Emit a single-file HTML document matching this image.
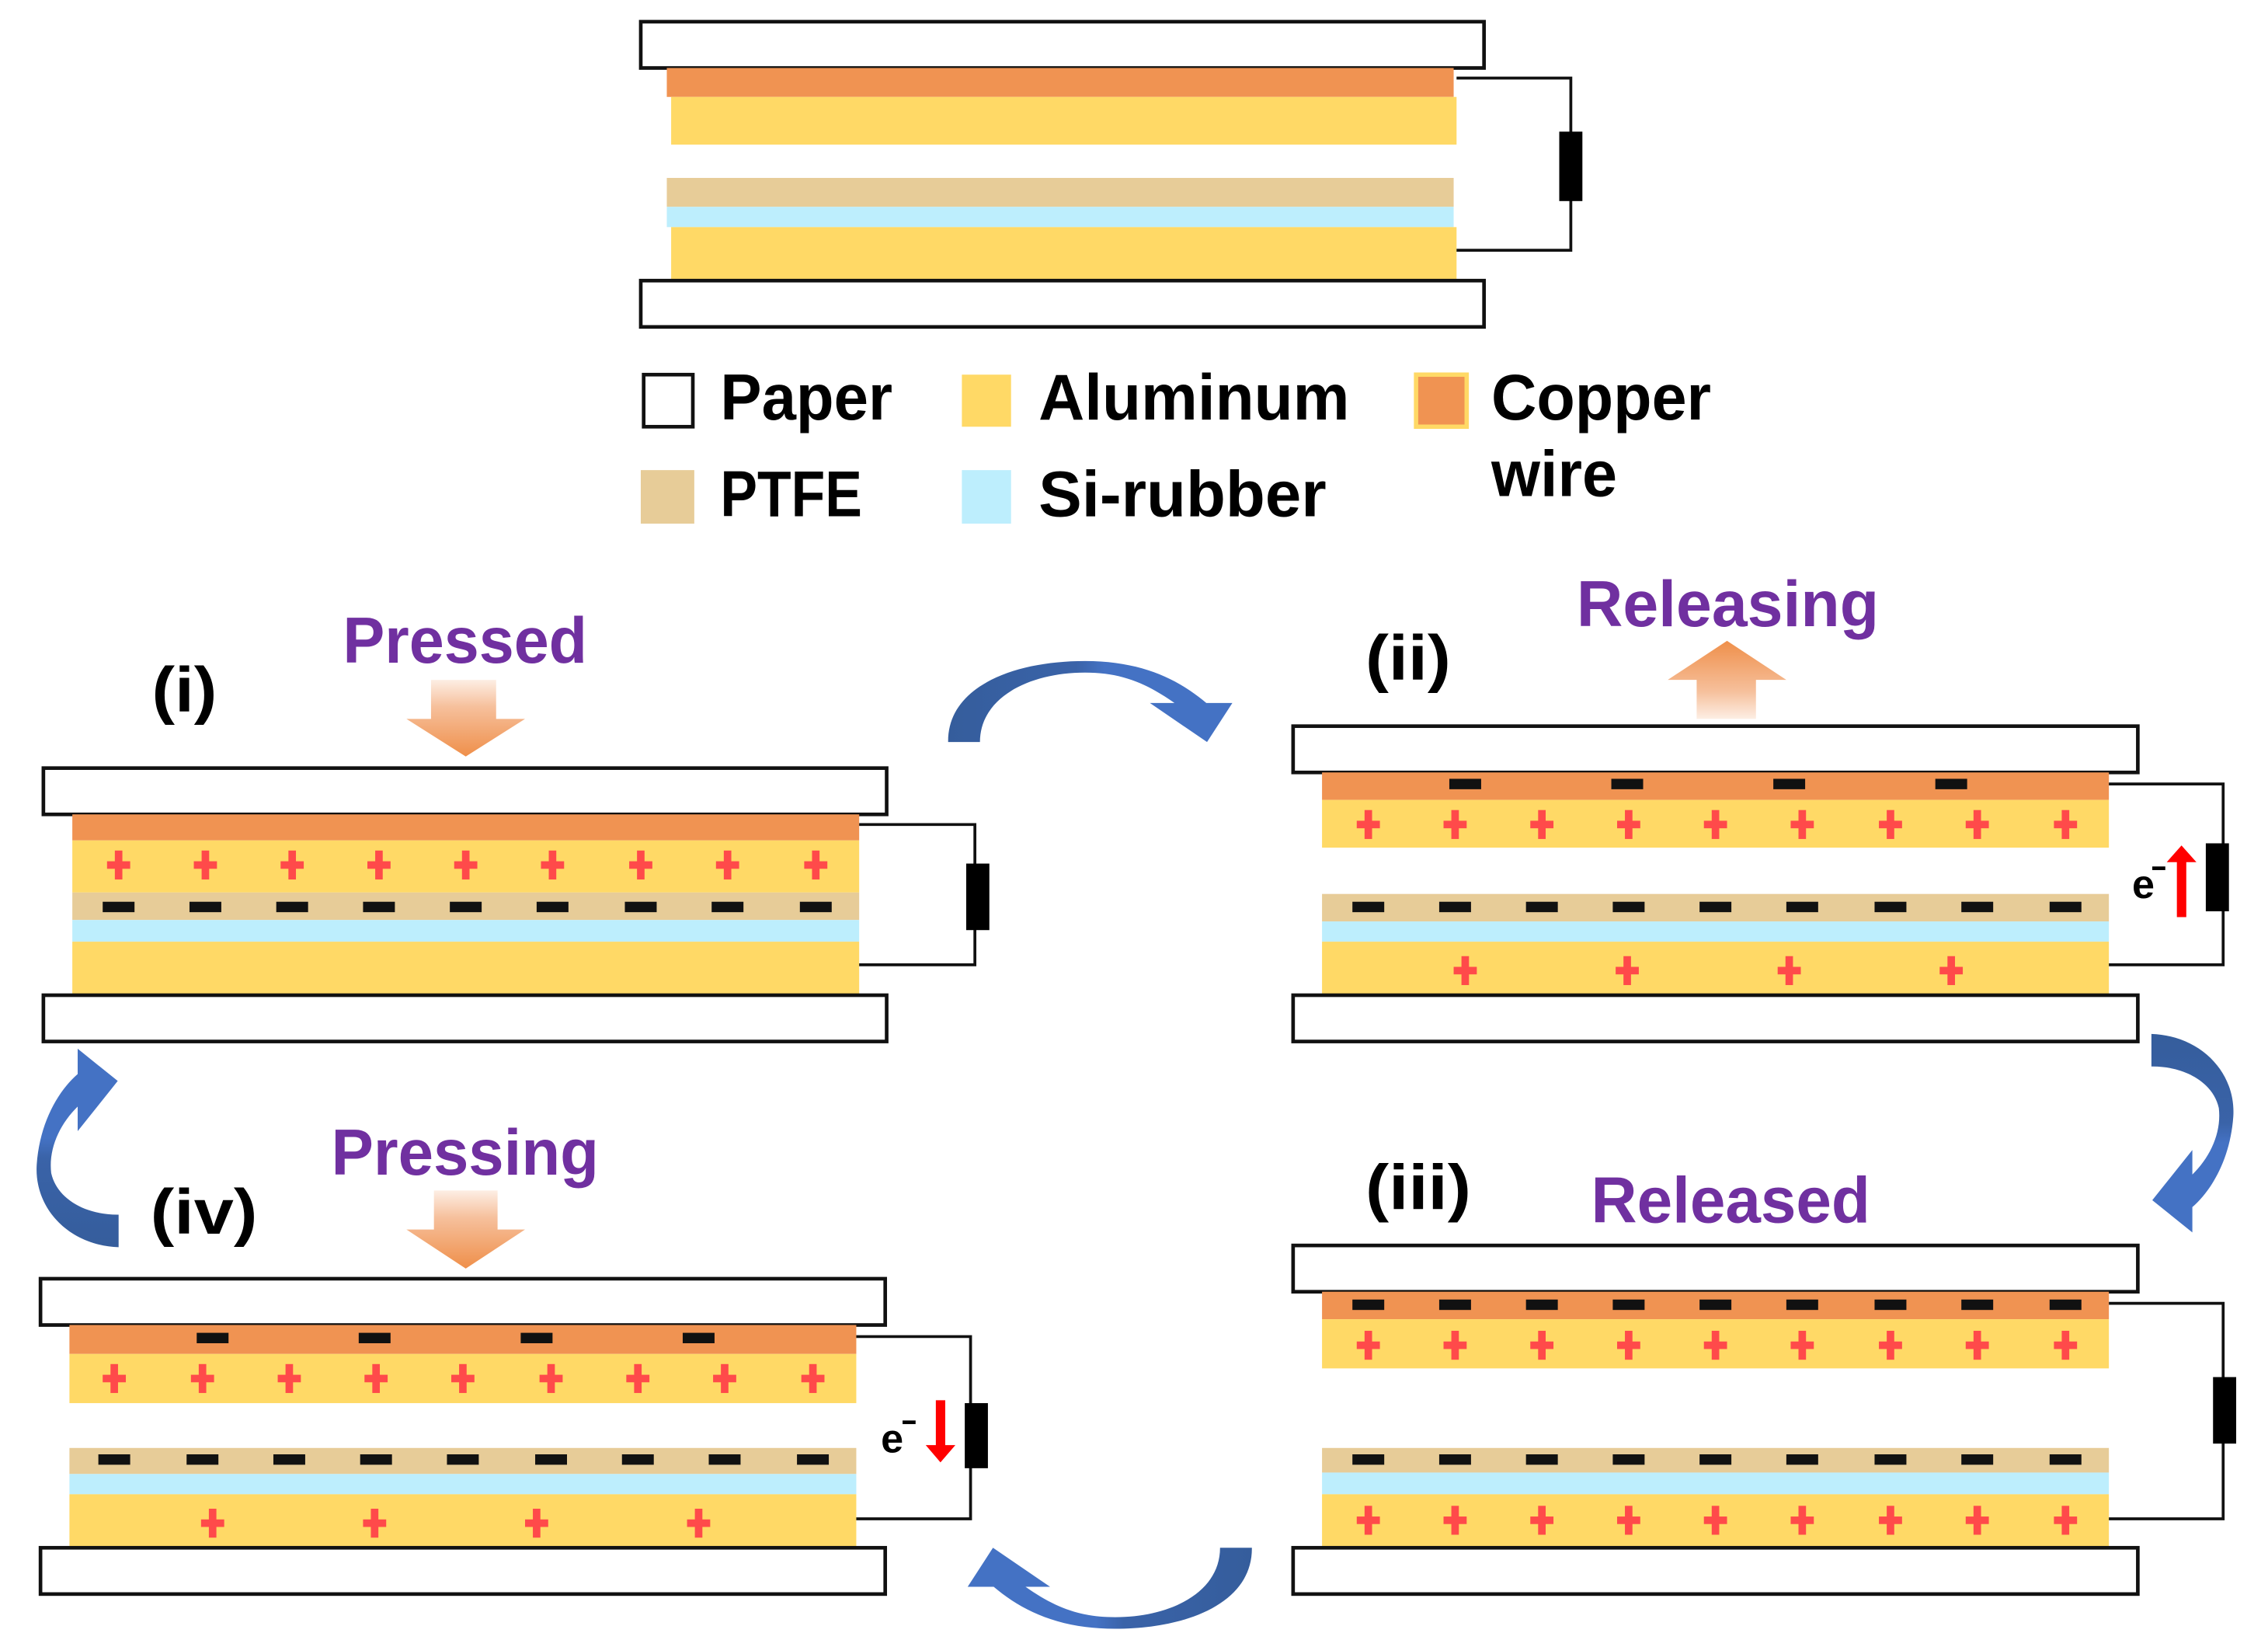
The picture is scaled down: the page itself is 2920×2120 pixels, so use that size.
<!DOCTYPE html>
<html><head><meta charset="utf-8"><style>
html,body{margin:0;padding:0;background:#fff;}
svg{display:block;}
text{font-family:"Liberation Sans",sans-serif;font-weight:bold;}
</style></head><body>
<svg width="2920" height="2120" viewBox="0 0 1568 1138.6" preserveAspectRatio="none" xmlns="http://www.w3.org/2000/svg">
<defs>
<g id="p"><rect x="-8" y="-2.6" width="16" height="5.2" fill="#ff4a4a"/><rect x="-2.6" y="-10" width="5.2" height="20" fill="#ff4a4a"/></g>
<g id="m"><rect x="-11" y="-3.6" width="22" height="7.2" fill="#111"/></g>
<linearGradient id="gd" x1="0" y1="0" x2="0" y2="1"><stop offset="0" stop-color="#fdeee4"/><stop offset="0.35" stop-color="#f6c09c"/><stop offset="1" stop-color="#ef8f4a"/></linearGradient>
<linearGradient id="gu" x1="0" y1="1" x2="0" y2="0"><stop offset="0" stop-color="#fdeee4"/><stop offset="0.35" stop-color="#f6c09c"/><stop offset="1" stop-color="#ef8f4a"/></linearGradient>
<linearGradient id="gb" x1="0" y1="0" x2="1" y2="0"><stop offset="0" stop-color="#355d9c"/><stop offset="0.45" stop-color="#3a63a8"/><stop offset="0.55" stop-color="#4472c4"/><stop offset="1" stop-color="#4472c4"/></linearGradient>
<linearGradient id="gb2" x1="0" y1="0" x2="0" y2="1"><stop offset="0" stop-color="#355d9c"/><stop offset="0.45" stop-color="#3a63a8"/><stop offset="0.55" stop-color="#4472c4"/><stop offset="1" stop-color="#4472c4"/></linearGradient>
<path id="arcT" d="M655.5,513 C655,475 700,457 750,457 C790,457 815,470 834,486 L852,486 L834.5,513 L795,486 L812,486 C792,472 775,465 750,465 C712,465 677.5,482 677.5,513 Z"/>
<path id="arcR" d="M1487.4,714.8 C1522,716 1546,742 1544,772 C1542,800 1530,822 1515.7,834.5 L1515.7,852 L1488,829.7 L1515.7,795 L1515.7,812 C1528,800 1536,783 1534,766 C1530,748 1510,737 1487.4,737.3 Z"/>
</defs>

<!-- TOP DEVICE -->
<rect x="443" y="15" width="583" height="32" fill="#fff" stroke="#111" stroke-width="2.5"/>
<rect x="461" y="47" width="544" height="20" fill="#f09352"/>
<rect x="464" y="67" width="543" height="33" fill="#ffd966"/>
<rect x="461" y="123" width="544" height="20" fill="#e7cc98"/>
<rect x="461" y="143" width="544" height="14" fill="#bdeefd"/>
<rect x="464" y="157" width="543" height="37" fill="#ffd966"/>
<rect x="443" y="194" width="583" height="32" fill="#fff" stroke="#111" stroke-width="2.5"/>
<polyline points="1007,54 1086,54 1086,173 1007,173" fill="none" stroke="#111" stroke-width="2"/>
<rect x="1078" y="91" width="16" height="48" fill="#000"/>

<!-- LEGEND -->
<rect x="445" y="259" width="34" height="36" fill="#fff" stroke="#111" stroke-width="2.5"/>
<text x="498" y="290" font-size="45" textLength="119" lengthAdjust="spacingAndGlyphs">Paper</text>
<rect x="665" y="259" width="34" height="36" fill="#ffd966"/>
<text x="718" y="290" font-size="45" textLength="215" lengthAdjust="spacingAndGlyphs">Aluminum</text>
<rect x="979" y="259" width="35" height="36" fill="#f09352" stroke="#ffd966" stroke-width="3"/>
<text x="1031" y="290" font-size="45" textLength="152" lengthAdjust="spacingAndGlyphs">Copper</text>
<text x="1031" y="343" font-size="45" textLength="87" lengthAdjust="spacingAndGlyphs">wire</text>
<rect x="443" y="325" width="37" height="37" fill="#e7cc98"/>
<text x="498" y="357" font-size="45" textLength="98" lengthAdjust="spacingAndGlyphs">PTFE</text>
<rect x="665" y="325" width="34" height="37" fill="#bdeefd"/>
<text x="718" y="357" font-size="45" textLength="199" lengthAdjust="spacingAndGlyphs">Si-rubber</text>

<!-- PANEL (i) -->
<text x="105" y="492" font-size="44" textLength="45" lengthAdjust="spacingAndGlyphs">(i)</text>
<text x="237" y="458" font-size="45" fill="#7030a0" textLength="169" lengthAdjust="spacingAndGlyphs">Pressed</text>
<polygon points="298,470 343,470 343,497 363,497 322,523 281,497 298,497" fill="url(#gd)"/>
<rect x="30" y="531" width="583" height="32" fill="#fff" stroke="#111" stroke-width="2.5"/>
<rect x="50" y="563" width="544" height="18" fill="#f09352"/>
<rect x="50" y="581" width="544" height="36" fill="#ffd966"/>
<rect x="50" y="617" width="544" height="19" fill="#e7cc98"/>
<rect x="50" y="636" width="544" height="15" fill="#bdeefd"/>
<rect x="50" y="651" width="544" height="37" fill="#ffd966"/>
<rect x="30" y="688" width="583" height="32" fill="#fff" stroke="#111" stroke-width="2.5"/>
<polyline points="594,570 674,570 674,667 594,667" fill="none" stroke="#111" stroke-width="2"/>
<rect x="668" y="597" width="16" height="46" fill="#000"/>
<g transform="translate(0,598)"><use href="#p" x="82"/><use href="#p" x="142"/><use href="#p" x="202"/><use href="#p" x="262"/><use href="#p" x="322"/><use href="#p" x="382"/><use href="#p" x="443"/><use href="#p" x="503"/><use href="#p" x="564"/></g>
<g transform="translate(0,627)"><use href="#m" x="82"/><use href="#m" x="142"/><use href="#m" x="202"/><use href="#m" x="262"/><use href="#m" x="322"/><use href="#m" x="382"/><use href="#m" x="443"/><use href="#m" x="503"/><use href="#m" x="564"/></g>

<!-- PANEL (ii) -->
<text x="944" y="470" font-size="44" textLength="59" lengthAdjust="spacingAndGlyphs">(ii)</text>
<text x="1090" y="433" font-size="45" fill="#7030a0" textLength="209" lengthAdjust="spacingAndGlyphs">Releasing</text>
<polygon points="1194,443 1235,470 1214,470 1214,497 1173,497 1173,470 1153,470" fill="url(#gu)"/>
<rect x="894" y="502" width="584" height="32" fill="#fff" stroke="#111" stroke-width="2.5"/>
<rect x="914" y="534" width="544" height="19" fill="#f09352"/>
<rect x="914" y="553" width="544" height="33" fill="#ffd966"/>
<rect x="914" y="618" width="544" height="19" fill="#e7cc98"/>
<rect x="914" y="637" width="544" height="14" fill="#bdeefd"/>
<rect x="914" y="651" width="544" height="37" fill="#ffd966"/>
<rect x="894" y="688" width="584" height="32" fill="#fff" stroke="#111" stroke-width="2.5"/>
<polyline points="1458,542 1537,542 1537,667 1458,667" fill="none" stroke="#111" stroke-width="2"/>
<rect x="1525" y="583" width="16" height="47" fill="#000"/>
<text x="1474" y="621" font-size="28">e</text><rect x="1488" y="599" width="9" height="2.5" fill="#000"/>
<polygon points="1505,634 1511.5,634 1511.5,596 1518.5,596 1508.2,584.5 1498,596 1505,596" fill="#ff0000"/>
<g transform="translate(0,542)"><use href="#m" x="1013"/><use href="#m" x="1125"/><use href="#m" x="1237"/><use href="#m" x="1349"/></g>
<g transform="translate(0,570)"><use href="#p" x="946"/><use href="#p" x="1006"/><use href="#p" x="1066"/><use href="#p" x="1126"/><use href="#p" x="1186"/><use href="#p" x="1246"/><use href="#p" x="1307"/><use href="#p" x="1367"/><use href="#p" x="1428"/></g>
<g transform="translate(0,627)"><use href="#m" x="946"/><use href="#m" x="1006"/><use href="#m" x="1066"/><use href="#m" x="1126"/><use href="#m" x="1186"/><use href="#m" x="1246"/><use href="#m" x="1307"/><use href="#m" x="1367"/><use href="#m" x="1428"/></g>
<g transform="translate(0,671)"><use href="#p" x="1013"/><use href="#p" x="1125"/><use href="#p" x="1237"/><use href="#p" x="1349"/></g>

<!-- PANEL (iii) -->
<text x="944" y="836" font-size="44" textLength="73" lengthAdjust="spacingAndGlyphs">(iii)</text>
<text x="1100" y="845" font-size="45" fill="#7030a0" textLength="193" lengthAdjust="spacingAndGlyphs">Released</text>
<rect x="894" y="861" width="584" height="32" fill="#fff" stroke="#111" stroke-width="2.5"/>
<rect x="914" y="893" width="544" height="19" fill="#f09352"/>
<rect x="914" y="912" width="544" height="34" fill="#ffd966"/>
<rect x="914" y="1001" width="544" height="17" fill="#e7cc98"/>
<rect x="914" y="1018" width="544" height="15" fill="#bdeefd"/>
<rect x="914" y="1033" width="544" height="37" fill="#ffd966"/>
<rect x="894" y="1070" width="584" height="32" fill="#fff" stroke="#111" stroke-width="2.5"/>
<polyline points="1458,901 1537,901 1537,1050 1458,1050" fill="none" stroke="#111" stroke-width="2"/>
<rect x="1530" y="952" width="16" height="46" fill="#000"/>
<g transform="translate(0,902)"><use href="#m" x="946"/><use href="#m" x="1006"/><use href="#m" x="1066"/><use href="#m" x="1126"/><use href="#m" x="1186"/><use href="#m" x="1246"/><use href="#m" x="1307"/><use href="#m" x="1367"/><use href="#m" x="1428"/></g>
<g transform="translate(0,930)"><use href="#p" x="946"/><use href="#p" x="1006"/><use href="#p" x="1066"/><use href="#p" x="1126"/><use href="#p" x="1186"/><use href="#p" x="1246"/><use href="#p" x="1307"/><use href="#p" x="1367"/><use href="#p" x="1428"/></g>
<g transform="translate(0,1009)"><use href="#m" x="946"/><use href="#m" x="1006"/><use href="#m" x="1066"/><use href="#m" x="1126"/><use href="#m" x="1186"/><use href="#m" x="1246"/><use href="#m" x="1307"/><use href="#m" x="1367"/><use href="#m" x="1428"/></g>
<g transform="translate(0,1051)"><use href="#p" x="946"/><use href="#p" x="1006"/><use href="#p" x="1066"/><use href="#p" x="1126"/><use href="#p" x="1186"/><use href="#p" x="1246"/><use href="#p" x="1307"/><use href="#p" x="1367"/><use href="#p" x="1428"/></g>

<!-- PANEL (iv) -->
<text x="104" y="853" font-size="44" textLength="74" lengthAdjust="spacingAndGlyphs">(iv)</text>
<text x="229" y="812" font-size="45" fill="#7030a0" textLength="185" lengthAdjust="spacingAndGlyphs">Pressing</text>
<polygon points="300,823 344,823 344,850 363,850 322,877 281,850 300,850" fill="url(#gd)"/>
<rect x="28" y="884" width="584" height="32" fill="#fff" stroke="#111" stroke-width="2.5"/>
<rect x="48" y="916" width="544" height="20" fill="#f09352"/>
<rect x="48" y="936" width="544" height="34" fill="#ffd966"/>
<rect x="48" y="1001" width="544" height="18" fill="#e7cc98"/>
<rect x="48" y="1019" width="544" height="14" fill="#bdeefd"/>
<rect x="48" y="1033" width="544" height="37" fill="#ffd966"/>
<rect x="28" y="1070" width="584" height="32" fill="#fff" stroke="#111" stroke-width="2.5"/>
<polyline points="592,924 671,924 671,1050 592,1050" fill="none" stroke="#111" stroke-width="2"/>
<rect x="667" y="970" width="16" height="45" fill="#000"/>
<text x="609" y="1004" font-size="28">e</text><rect x="624" y="982" width="9" height="2.5" fill="#000"/>
<polygon points="647,968 653.5,968 653.5,999 660.5,999 650.2,1011 640,999 647,999" fill="#ff0000"/>
<g transform="translate(0,925)"><use href="#m" x="147"/><use href="#m" x="259"/><use href="#m" x="371"/><use href="#m" x="483"/></g>
<g transform="translate(0,953)"><use href="#p" x="79"/><use href="#p" x="140"/><use href="#p" x="200"/><use href="#p" x="260"/><use href="#p" x="320"/><use href="#p" x="381"/><use href="#p" x="441"/><use href="#p" x="501"/><use href="#p" x="562"/></g>
<g transform="translate(0,1009)"><use href="#m" x="79"/><use href="#m" x="140"/><use href="#m" x="200"/><use href="#m" x="260"/><use href="#m" x="320"/><use href="#m" x="381"/><use href="#m" x="441"/><use href="#m" x="501"/><use href="#m" x="562"/></g>
<g transform="translate(0,1053)"><use href="#p" x="147"/><use href="#p" x="259"/><use href="#p" x="371"/><use href="#p" x="483"/></g>

<!-- BLUE CYCLE ARROWS -->
<use href="#arcT" fill="url(#gb)"/>
<use href="#arcT" fill="url(#gb)" transform="rotate(180 760.5 791.5)"/>
<use href="#arcR" fill="url(#gb2)"/>
<use href="#arcR" fill="url(#gb2)" transform="rotate(180 784.7 788.5)"/>
</svg>
</body></html>
